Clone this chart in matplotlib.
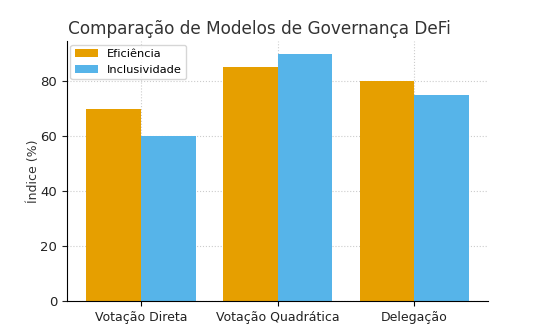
import numpy as np
import matplotlib
matplotlib.use("Agg")
import matplotlib.pyplot as plt

modelos = ['Votação Direta', 'Votação Quadrática', 'Delegação']
eficiencia = [70, 85, 80]
inclusividade = [60, 90, 75]

x = np.arange(len(modelos))
w = 0.4

fig = plt.figure(figsize=(5.58, 3.29), dpi=100)
ax = fig.add_axes([0.12, 0.085, 0.755, 0.79])
ax.bar(x - w/2, eficiencia, w, label='Eficiência', color='#E69F00')
ax.bar(x + w/2, inclusividade, w, label='Inclusividade', color='#56B4E9')

ax.set_xticks(x)
ax.set_xticklabels(modelos, fontsize=9, color='#222222')
ax.tick_params(axis='y', labelsize=9.5, colors='#222222')
ax.set_ylabel('Índice (%)', fontsize=9, color='#333333', labelpad=0)
ax.set_title('Comparação de Modelos de Governança DeFi', fontsize=12.2,
             color='#333333', x=0.456, pad=5)
ax.grid(True, linestyle=':', color='#cccccc', linewidth=0.8)
ax.set_axisbelow(True)
for s in ['top', 'right']:
    ax.spines[s].set_visible(False)
ax.legend(loc='upper left', fontsize=8.2, borderaxespad=0.3)

fig.savefig('out.png', dpi=100)
